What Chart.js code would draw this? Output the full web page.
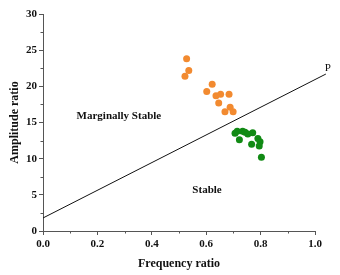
<!DOCTYPE html>
<html>
<head>
<meta charset="utf-8">
<script src="https://cdn.jsdelivr.net/npm/chart.js@4.4.0/dist/chart.umd.min.js"></script>
<style>
  html, body { margin: 0; padding: 0; background: #fff; }
  #wrap { width: 340px; height: 275px; }
</style>
</head>
<body>
<div id="wrap"><canvas id="c" width="340" height="275"></canvas></div>
<script>
// data
const unstableX = [0.528, 0.536, 0.522, 0.622, 0.602, 0.653, 0.636, 0.684, 0.646, 0.688, 0.669, 0.699];
const unstableY = [23.8, 22.2, 21.4, 20.3, 19.3, 18.9, 18.7, 18.9, 17.7, 17.1, 16.5, 16.5];
const stableX = [0.706, 0.714, 0.734, 0.743, 0.753, 0.771, 0.722, 0.767, 0.790, 0.798, 0.795, 0.803];
const stableY = [13.5, 13.8, 13.8, 13.65, 13.4, 13.6, 12.6, 12.0, 12.8, 12.35, 11.75, 10.2];
const boundaryX = [0, 1.04];
const boundaryY = [1.8, 21.7];
const xTicks = [0, 0.2, 0.4, 0.6, 0.8, 1.0];
const yTicks = [0, 5, 10, 15, 20, 25, 30];
const labels = [
    { text: 'Marginally Stable', x: 0.279, y: 15.9 },
    { text: 'Stable', x: 0.603, y: 5.7 },
    { text: 'P', x: 1.047, y: 22.5 }
];

const serif = "'Liberation Serif', 'Times New Roman', serif";

function toPoints(xs, ys) {
    return xs.map((x, i) => ({ x: x, y: ys[i] }));
}

// minor ticks and text labels
const extras = {
    id: 'extras',
    afterDraw(chart) {
        const ctx = chart.ctx;
        const xs = chart.scales.x, ys = chart.scales.y;
        ctx.save();
        ctx.strokeStyle = '#555';
        ctx.lineWidth = 1;
        ctx.beginPath();
        for (let v = 0.1; v < 1.0; v += 0.2) {
            const px = Math.round(xs.getPixelForValue(v)) + 0.5;
            ctx.moveTo(px, ys.bottom);
            ctx.lineTo(px, ys.bottom + 2.5);
        }
        for (let v = 2.5; v < 30; v += 5) {
            const py = Math.round(ys.getPixelForValue(v)) + 0.5;
            ctx.moveTo(xs.left, py);
            ctx.lineTo(xs.left - 2.5, py);
        }
        ctx.stroke();

        ctx.fillStyle = '#111';
        ctx.textAlign = 'center';
        ctx.textBaseline = 'middle';
        labels.forEach(l => {
            ctx.font = (l.text === 'P' ? '' : 'bold ') + '11px ' + serif;
            ctx.fillText(l.text, xs.getPixelForValue(l.x), ys.getPixelForValue(l.y));
        });
        ctx.restore();
    }
};

new Chart(document.getElementById('c').getContext('2d'), {
    type: 'scatter',
    data: {
        datasets: [
            {
                label: 'boundary',
                data: toPoints(boundaryX, boundaryY),
                showLine: true,
                borderColor: '#111',
                borderWidth: 1,
                pointRadius: 0,
                clip: false
            },
            {
                label: 'Marginally stable',
                data: toPoints(unstableX, unstableY),
                backgroundColor: '#f28a30',
                borderWidth: 0,
                pointRadius: 3.5
            },
            {
                label: 'Stable',
                data: toPoints(stableX, stableY),
                backgroundColor: '#118a14',
                borderWidth: 0,
                pointRadius: 3.5
            }
        ]
    },
    options: {
        responsive: false,
        animation: false,
        layout: { padding: { top: 14, right: 25, left: 4, bottom: 0 } },
        plugins: {
            legend: { display: false },
            tooltip: { enabled: false }
        },
        scales: {
            x: {
                type: 'linear',
                min: 0,
                max: 1.0,
                afterBuildTicks: s => { s.ticks = xTicks.map(v => ({ value: v })); },
                afterFit: s => { s.height = 44; },
                grid: { drawOnChartArea: false, tickLength: 4, color: '#555' },
                border: { color: '#555', width: 1 },
                ticks: {
                    color: '#111',
                    padding: 3,
                    maxRotation: 0,
                    font: { family: serif, size: 11, weight: 'bold' },
                    callback: v => v.toFixed(1)
                },
                title: {
                    display: true,
                    text: 'Frequency ratio',
                    color: '#111',
                    padding: { top: 0 },
                    font: { family: serif, size: 12, weight: 'bold' }
                }
            },
            y: {
                type: 'linear',
                min: 0,
                max: 30,
                afterBuildTicks: s => { s.ticks = yTicks.map(v => ({ value: v })); },
                afterFit: s => { s.width = 39; },
                grid: { drawOnChartArea: false, tickLength: 4, color: '#555' },
                border: { color: '#555', width: 1 },
                ticks: {
                    color: '#111',
                    padding: 2,
                    font: { family: serif, size: 11, weight: 'bold' }
                },
                title: {
                    display: true,
                    text: 'Amplitude ratio',
                    color: '#111',
                    padding: { bottom: 0 },
                    font: { family: serif, size: 12, weight: 'bold' }
                }
            }
        }
    },
    plugins: [extras]
});
</script>
</body>
</html>
